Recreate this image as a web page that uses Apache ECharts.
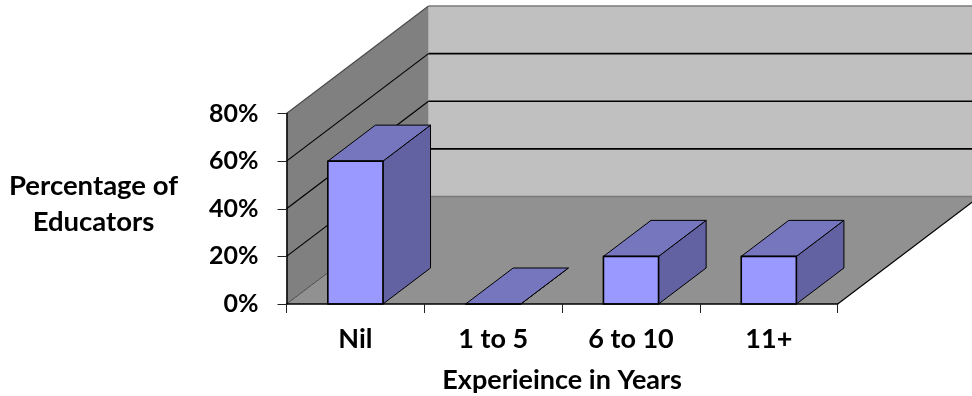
<!DOCTYPE html>
<html>
<head>
<meta charset="utf-8">
<style>html,body{margin:0;padding:0;background:#fff}#chart{width:972px;height:396px}</style>
<script src="https://cdn.jsdelivr.net/npm/echarts@6/dist/echarts.min.js"></script>
</head>
<body>
<div id="chart"></div>
<script>
// Chart data
const categories = ['Nil', '1 to 5', '6 to 10', '11+'];
const educatorShare = [60, 0, 20, 20];
const valueTicks = [0, 20, 40, 60, 80];
const valueAxisTitle = 'Percentage of\nEducators';
const categoryAxisTitle = 'Experieince in Years';

// Oblique projection used for the box: how far the back plane is shifted
const DEPTH_X = 142;
const DEPTH_Y = -107.5;
const BAR_DEPTH_RATIO = 0.335;
const BAR_WIDTH_RATIO = 0.4;

const COLORS = {
  backWall: '#c0c0c0',
  sideWall: '#808080',
  floor: '#919191',
  barFront: '#9999ff',
  barTop: '#7676be',
  barSide: '#6262a2'
};

const chart = echarts.init(document.getElementById('chart'), null, { renderer: 'canvas' });

function poly(points, fill, stroke, width) {
  return {
    type: 'polygon',
    shape: { points },
    style: { fill, stroke: stroke || 'none', lineWidth: width || 0, lineJoin: 'round' }
  };
}
function line(a, b, stroke, width) {
  return {
    type: 'line',
    shape: { x1: a[0], y1: a[1], x2: b[0], y2: b[1] },
    style: { stroke, lineWidth: width }
  };
}
const back = (p, k) => [p[0] + DEPTH_X * (k === undefined ? 1 : k), p[1] + DEPTH_Y * (k === undefined ? 1 : k)];

// Walls and floor of the box, built once from the axis scales
function renderRoom(params, api) {
  const band = api.size([1, 0])[0];
  const left = api.coord([0, 0])[0] - band / 2;
  const right = left + band * categories.length;
  const y0 = api.coord([0, 0])[1];
  const yTop = api.coord([0, valueTicks[valueTicks.length - 1]])[1];
  const children = [];
  children.push(poly([back([left, yTop]), back([right + 20, yTop]), back([right + 20, y0]), back([left, y0])], COLORS.backWall));
  children.push(poly([[left, yTop], back([left, yTop]), back([left, y0]), [left, y0]], COLORS.sideWall));
  children.push(poly([[left, y0], [right, y0], back([right, y0]), back([left, y0])], COLORS.floor));
  valueTicks.forEach(function (v) {
    const y = api.coord([0, v])[1];
    const isEdge = v === 0 || v === valueTicks[valueTicks.length - 1];
    const color = isEdge ? '#7a7a7a' : '#000000';
    if (v !== 0) {
      children.push(line([left, y], back([left, y]), isEdge ? '#4a4a4a' : '#000', 1.2));
    } else {
      children.push(line([left, y], back([left, y]), '#4a4a4a', 1));
    }
    children.push(line(back([left, y]), back([right + 20, y]), color, isEdge ? 1.4 : 1.6));
  });
  children.push(line([right, y0], back([right, y0]), '#000', 1.2));
  return { type: 'group', children };
}

// One oblique box per category
function renderBar(params, api) {
  const c = api.coord([api.value(0), api.value(1)]);
  const base = api.coord([api.value(0), 0]);
  const w = api.size([1, 0])[0] * BAR_WIDTH_RATIO;
  const x0 = c[0] - w / 2;
  const x1 = c[0] + w / 2;
  const tl = [x0, c[1]], tr = [x1, c[1]], bl = [x0, base[1]], br = [x1, base[1]];
  const children = [
    poly([br, tr, back(tr, BAR_DEPTH_RATIO), back(br, BAR_DEPTH_RATIO)], COLORS.barSide, '#000', 1),
    poly([tl, tr, back(tr, BAR_DEPTH_RATIO), back(tl, BAR_DEPTH_RATIO)], COLORS.barTop, '#000', 1),
    poly([tl, tr, br, bl], COLORS.barFront, '#000', 1.6)
  ];
  return { type: 'group', children };
}

const font = 'Lato, Carlito, Calibri, sans-serif';

chart.setOption({
  animation: false,
  backgroundColor: '#ffffff',
  title: {
    text: valueAxisTitle,
    left: 93.5,
    top: 168,
    padding: 0,
    textAlign: 'center',
    textStyle: { fontFamily: font, fontWeight: 'bold', fontSize: 27.5, color: '#000', lineHeight: 36 }
  },
  grid: { left: 286.5, right: 134.3, top: 113.5, bottom: 92, containLabel: false, outerBoundsMode: 'none' },
  xAxis: {
    type: 'category',
    data: categories,
    z: 5,
    name: categoryAxisTitle,
    nameLocation: 'middle',
    nameGap: 63,
    nameTextStyle: { fontFamily: font, fontWeight: 'bold', fontSize: 27, color: '#000' },
    axisLine: { lineStyle: { color: '#000', width: 1.5 } },
    axisTick: { show: true, alignWithLabel: false, length: 9, lineStyle: { color: '#222', width: 1 } },
    axisLabel: { fontFamily: font, fontWeight: 'bold', fontSize: 27, color: '#000', margin: 22 }
  },
  yAxis: {
    type: 'value',
    min: 0,
    max: 80,
    interval: 20,
    z: 5,
    axisLine: { show: true, lineStyle: { color: '#000', width: 1.5 } },
    axisTick: { show: true, length: 9, lineStyle: { color: '#222', width: 1 } },
    axisLabel: { formatter: '{value}%', fontFamily: font, fontWeight: 'bold', fontSize: 25, color: '#000', margin: 28 },
    splitLine: { show: false }
  },
  series: [
    {
      type: 'custom',
      name: 'box',
      silent: true,
      z: 1,
      clip: false,
      renderItem: renderRoom,
      data: [[0, 0]],
      encode: { x: 0, y: 1 }
    },
    {
      type: 'custom',
      name: 'Percentage of Educators',
      z: 2,
      clip: false,
      renderItem: renderBar,
      data: categories.map((c, i) => [i, educatorShare[i]]),
      encode: { x: 0, y: 1 }
    }
  ]
});
</script>
</body>
</html>
